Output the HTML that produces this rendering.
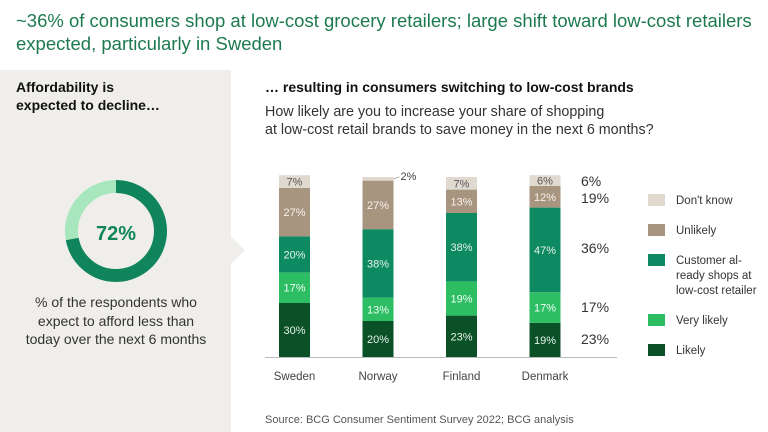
<!DOCTYPE html>
<html><head><meta charset="utf-8"><style>
body{margin:0;width:768px;height:432px;overflow:hidden;background:#fff;font-family:"Liberation Sans",sans-serif;position:relative}
.abs{position:absolute}
</style></head><body>
<div class="abs" style="left:16px;top:9px;font-size:18.5px;line-height:23px;color:#1d7a4f">~36% of consumers shop at low-cost grocery retailers; large shift toward low-cost retailers<br>expected, particularly in Sweden</div>
<div class="abs" style="left:0;top:70px;width:231px;height:362px;background:#f0eeeb"></div>
<svg class="abs" style="left:0;top:0" width="768" height="432"><polygon points="231,237 245,250 231,264" fill="#f0eeeb"/></svg>
<div class="abs" style="left:16px;top:78px;font-size:14px;font-weight:bold;line-height:18px;color:#111">Affordability is<br>expected to decline…</div>
<svg class="abs" style="left:0;top:0" width="231" height="432">
<circle cx="116" cy="231" r="44.5" fill="none" stroke="#a8e6bd" stroke-width="13"/>
<circle id="arc" cx="116" cy="231" r="44.5" fill="none" stroke="#10845d" stroke-width="13" transform="rotate(-90 116 231)"/>
<text x="116" y="240" text-anchor="middle" font-size="20" font-weight="bold" fill="#10845d" font-family="Liberation Sans">72%</text>
</svg>
<div class="abs" style="left:0;width:232px;top:293px;text-align:center;font-size:14px;line-height:18.5px;color:#333">% of the respondents who<br>expect to afford less than<br>today over the next 6 months</div>
<div class="abs" style="left:265px;top:79px;font-size:14px;font-weight:bold;color:#111">… resulting in consumers switching to low-cost brands</div>
<div class="abs" style="left:265px;top:103px;font-size:14.3px;line-height:18px;color:#333">How likely are you to increase your share of shopping<br>at low-cost retail brands to save money in the next 6 months?</div>
<svg id="chart" class="abs" style="left:0;top:0" width="768" height="432"></svg>
<div class="abs" style="left:265px;top:414px;font-size:11px;color:#555">Source: BCG Consumer Sentiment Survey 2022; BCG analysis</div>
<script>
const donutValue = 72;
const countries = ["Sweden","Norway","Finland","Denmark"];
const likely = [30,20,23,19];
const veryLikely = [17,13,19,17];
const customer = [20,38,38,47];
const unlikely = [27,27,13,12];
const dontKnow = [7,2,7,6];
const totals = ["6%","19%","36%","17%","23%"];
const seriesNames = ["Don't know","Unlikely","Customer al-|ready shops at|low-cost retailer","Very likely","Likely"];

const arc = document.getElementById('arc');
const C = 2*Math.PI*44.5;
arc.setAttribute('stroke-dasharray', (C*donutValue/100)+' '+C);

const NS = "http://www.w3.org/2000/svg";
const svg = document.getElementById('chart');
const base = 357, scale = 1.80, barW = 31;
const xCenter = i => 294.5 + i*83.5;
const y = v => base - v*scale;
function el(tag, attrs){const e=document.createElementNS(NS,tag);for(const k in attrs)e.setAttribute(k,attrs[k]);svg.appendChild(e);return e;}
const series = [likely,veryLikely,customer,unlikely,dontKnow];
const colors = ["#0b5127","#2dbd63","#0e8a62","#a89580","#e0d9cf"];
const txtColors = ["#e6f2ea","#f0fff4","#e6f2ea","#f6f0ea","#555"];
const segNames = ["likely","very-likely","customer","unlikely","dont-know"];
countries.forEach((c,i)=>{
  let cum=0;
  series.forEach((s,k)=>{
    const v=s[i];
    const r=el('rect',{x:xCenter(i)-barW/2,y:y(cum+v),width:barW,height:v*scale,fill:colors[k]});
    
    
    if(v>=5){
      const t=el('text',{x:xCenter(i),y:y(cum+v/2)+4,'text-anchor':'middle','font-size':11,fill:txtColors[k],'font-family':'Liberation Sans'});
      t.textContent=v+'%';
      
      
    } else {
      const yy=y(cum+v/2);
      const ln=el('line',{x1:xCenter(i)+barW/2,y1:yy,x2:xCenter(i)+barW/2+6,y2:yy-2,stroke:'#aaa','stroke-width':1});
      
      
      const t=el('text',{x:xCenter(i)+barW/2+7,y:yy+1,'font-size':11,fill:'#444','font-family':'Liberation Sans'});
      t.textContent=v+'%';
      
      
    }
    cum+=v;
  });
  const t=el('text',{x:xCenter(i),y:380,'text-anchor':'middle','font-size':11.5,fill:'#444','font-family':'Liberation Sans'});
  t.textContent=c;
  
  
});
const ax=el('line',{x1:265,y1:base+0.5,x2:617,y2:base+0.5,stroke:'#bbb','stroke-width':1});


const totY=[186,203,253,312,344];
totals.forEach((s,k)=>{
  const t=el('text',{x:581,y:totY[k],'font-size':14,fill:'#333','font-family':'Liberation Sans'});
  t.textContent=s;
  
  
});
const legY=[194,224,254,314,344];
const legCol=["#e0d9cf","#a89580","#0e8a62","#2dbd63","#0b5127"];
seriesNames.forEach((n,k)=>{
  const r=el('rect',{x:648,y:legY[k],width:17,height:12,fill:legCol[k]});
  
  
  n.split('|').forEach((line,j)=>{
    const t=el('text',{x:676,y:legY[k]+10+j*15,'font-size':11.5,fill:'#333','font-family':'Liberation Sans'});
    t.textContent=line;
    
    
  });
});
</script>
</body></html>
